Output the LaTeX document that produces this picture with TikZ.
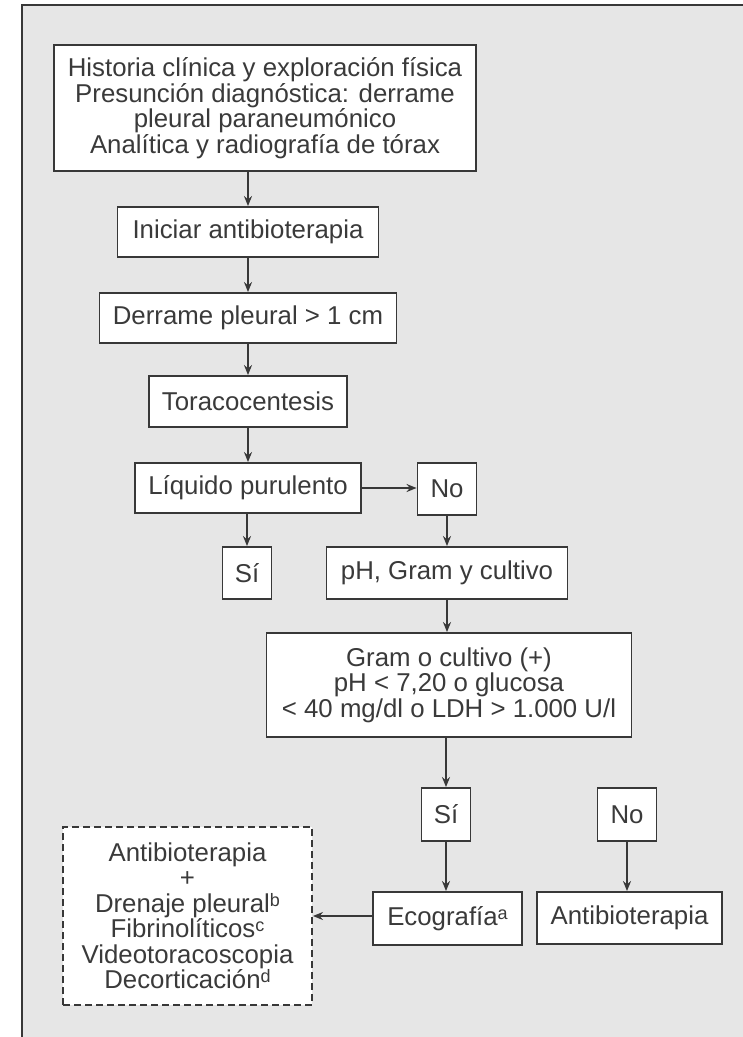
\documentclass[tikz,border=0pt]{standalone}
\usepackage{fontspec}
\setmainfont{Liberation Sans}
\usepackage{tikz}
\usetikzlibrary{positioning, arrows.meta}

\definecolor{framegray}{HTML}{E6E6E6}
\definecolor{linegray}{HTML}{383838}
\definecolor{textgray}{HTML}{3A3A3A}
\newcommand{\fnmark}[1]{\raisebox{0.24em}{\fontsize{18pt}{18pt}\selectfont #1}}

\begin{document}
\begin{tikzpicture}[x=1pt, y=-1pt, -{Stealth[length=10pt, width=8pt]}, line width=1.9pt, color=linegray,
    box/.style={draw=linegray, fill=white, rectangle, inner sep=0pt, align=center, text=textgray,
        font=\fontsize{25.8pt}{25.5pt}\selectfont},
    dashbox/.style={box, dash pattern=on 7pt off 4pt}]
    \useasboundingbox (0,0) rectangle (743,1037);
    \begin{scope}
        \clip (0,0) rectangle (743,1037);
        \draw[-, fill=framegray, line width=2.2pt] (22,5) rectangle (790,1090);
    \end{scope}

    % left column
    \node[box, minimum width=422pt, minimum height=126pt] (hist) at (265,108)
        {Historia clínica y exploración física\\ Presunción diagnóstica: derrame\\ pleural paraneumónico\\ Analítica y radiografía de tórax};
    \node[box, minimum width=261pt, minimum height=50pt] (inic) at (248,232) {Iniciar antibioterapia};
    \node[box, minimum width=297pt, minimum height=50pt] (derr) at (248,318) {Derrame pleural > 1 cm};
    \node[box, minimum width=198pt, minimum height=51pt] (tora) at (248,401.5) {Toracocentesis};
    \node[box, minimum width=226pt, minimum height=50pt] (liqu) at (248,488) {Líquido purulento};
    \node[box, minimum width=49pt, minimum height=52pt] (si1) at (247,573) {Sí};

    % middle column
    \node[box, minimum width=59pt, minimum height=52pt] (no1) at (447,489) {No};
    \node[box, minimum width=241pt, minimum height=52pt] (ph) at (447,573) {pH, Gram y cultivo};
    \node[box, minimum width=365pt, minimum height=104pt] (gram) at (449,685)
        {Gram o cultivo (+)\\ pH < 7,20 o glucosa\\ < 40 mg/dl o LDH > 1.000 U/l};
    \node[box, minimum width=49pt, minimum height=53pt] (si2) at (446,814.5) {Sí};
    \node[box, minimum width=149pt, minimum height=53pt] (eco) at (447.5,918.5) {Ecografía\fnmark{a}};

    % right column
    \node[box, minimum width=59pt, minimum height=53pt] (no2) at (627,814.5) {No};
    \node[box, minimum width=185pt, minimum height=52pt] (anti) at (629.5,918) {Antibioterapia};

    % treatment options
    \node[dashbox, minimum width=249pt, minimum height=178pt] (trat) at (187.5,916)
        {Antibioterapia\\ +\\ Drenaje pleural\fnmark{b}\\ Fibrinolíticos\fnmark{c}\\ Videotoracoscopia\\ Decorticación\fnmark{d}};

    \draw (inic.north |- hist.south) -- (inic.north);
    \draw (inic) -- (derr);
    \draw (derr) -- (tora);
    \draw (tora) -- (liqu);
    \draw (liqu.south -| si1) -- (si1.north);
    \draw (liqu.east) -- (no1.west |- liqu.east);
    \draw (no1) -- (ph);
    \draw (ph.south -| no1) -- (gram.north -| no1);
    \draw (gram.south -| si2) -- (si2.north);
    \draw (si2) -- (si2.south |- eco.north);
    \draw (no2) -- (no2.south |- anti.north);
    \draw (eco.west |- trat.east) -- (trat.east);
\end{tikzpicture}
\end{document}
